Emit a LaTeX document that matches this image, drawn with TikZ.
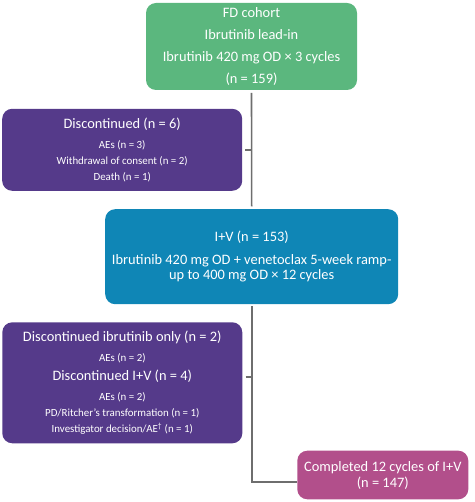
\documentclass[tikz,border=0pt]{standalone}
\usepackage{fontspec}
\setmainfont{Carlito}
\definecolor{fdGreen}{HTML}{5BB77E}
\definecolor{discPurple}{HTML}{553A8A}
\definecolor{ivBlue}{HTML}{0F86B6}
\definecolor{donePink}{HTML}{B24F8B}
\definecolor{lineGray}{HTML}{6E6E6E}
\begin{document}
\begin{tikzpicture}[x=1pt, y=-1pt, boxStyle/.style={rectangle, rounded corners=10pt, text=white, align=center, inner sep=0pt}, bigStyle/.style={boxStyle, font=\fontsize{14.4}{16}\selectfont}, smallStyle/.style={boxStyle, font=\fontsize{10.9}{16}\selectfont}, lineStyle/.style={draw=lineGray, line width=1.6pt}]
                    \useasboundingbox (0, 0) rectangle (474, 502);
                    \node[bigStyle, fill=fdGreen, minimum width=211, minimum height=87] (fd_box) at (251.5, 46.5) {FD cohort\\[6pt]Ibrutinib lead-in\\[6pt]Ibrutinib 420 mg OD × 3 cycles\\[6pt](n = 159)};
                    \node[smallStyle, fill=discPurple, minimum width=240, minimum height=82] (disc_0) at (122.2, 149.8) {{\fontsize{14.4}{16}\selectfont Discontinued (n = 6)}\\[4pt]AEs (n = 3)\\Withdrawal of consent (n = 2)\\Death (n = 1)};
                    \node[bigStyle, fill=ivBlue, minimum width=293, minimum height=95] (iv_box) at (251.7, 256.7) {I+V (n = 153)\\[6.5pt]Ibrutinib 420 mg OD + venetoclax 5-week ramp-\\[-1pt]up to 400 mg OD × 12 cycles};
                    \node[smallStyle, fill=discPurple, minimum width=240, minimum height=121] (disc_1) at (122.3, 382.8) {{\fontsize{14.4}{16}\selectfont Discontinued ibrutinib only (n = 2)}\\[4pt]AEs (n = 2)\\[2.7pt]{\fontsize{14.4}{16}\selectfont Discontinued I+V (n = 4)}\\[4pt]AEs (n = 2)\\PD/Ritcher's transformation (n = 1)\\Investigator decision/AE\textsuperscript{†} (n = 1)};
                    \node[bigStyle, fill=donePink, minimum width=171, minimum height=48.6] (done_box) at (382.8, 475) {Completed 12 cycles of I+V\\(n = 147)};
                    % connectors
                    \draw[lineStyle, shorten <=2.6pt, shorten >=2.6pt] (fd_box.south) -- (iv_box.north);
                    \draw[lineStyle, shorten <=2pt] (iv_box.south) |- ([yshift=-7pt]done_box.west);
                    \draw[lineStyle, shorten <=3pt] (disc_0.east) -- (disc_0.east -| fd_box.south);
                    \draw[lineStyle, shorten <=3pt] ([yshift=6pt]disc_1.east) -- ([yshift=6pt]disc_1.east -| fd_box.south);
                \end{tikzpicture}
\end{document}
